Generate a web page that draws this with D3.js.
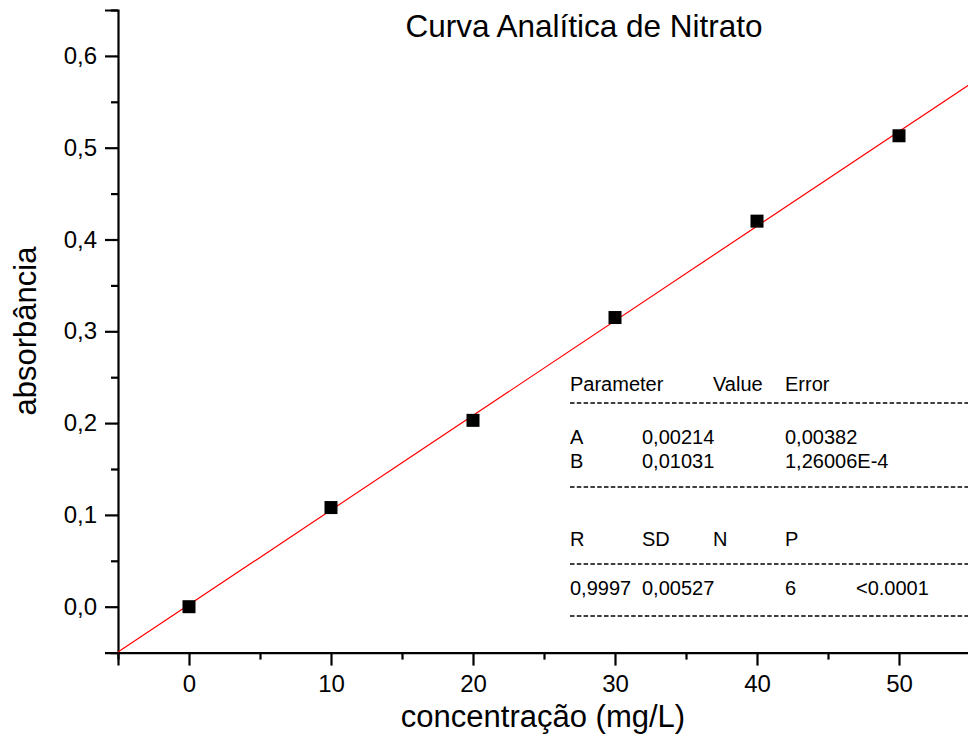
<!DOCTYPE html>
<html>
<head>
<meta charset="utf-8">
<script src="https://cdn.jsdelivr.net/npm/d3@7"></script>
<style>
  body { margin: 0; background: #fff; }
  text { font-family: "Liberation Sans", Arial, sans-serif; }
</style>
</head>
<body>
<div id="chart"></div>
<script>
// Data
const concentration = [0, 10, 20, 30, 40, 50];
const absorbance = [0.000, 0.108, 0.203, 0.315, 0.420, 0.513];

// Linear fit parameters (from the stats table)
const fitA = 0.00214;
const fitB = 0.01031;

// Stats table rows
const tableHeader = ["Parameter", "Value", "Error"];
const tableParams = [["A", "0,00214", "0,00382"], ["B", "0,01031", "1,26006E-4"]];
const tableStatsHeader = ["R", "SD", "N", "P"];
const tableStats = ["0,9997", "0,00527", "6", "<0.0001"];

const xMajor = [0, 10, 20, 30, 40, 50];
const xMinor = [-5, 5, 15, 25, 35, 45, 55];
const yMajor = [0, 0.1, 0.2, 0.3, 0.4, 0.5, 0.6];
const yMinor = [-0.05, 0.05, 0.15, 0.25, 0.35, 0.45, 0.55, 0.65];

const width = 968, height = 744;
const fontFamily = "'Liberation Sans', Arial, sans-serif";

const svg = d3.select("#chart")
    .append("svg")
    .attr("width", width)
    .attr("height", height);

// Scales
const xScale = d3.scaleLinear()
    .domain([-5, 55])
    .range([118, 970]);

const yScale = d3.scaleLinear()
    .domain([-0.05, 0.65])
    .range([652.6, 10]);

const fmtY = v => d3.format(".1f")(v).replace(".", ",");

// Y axis: major ticks with labels, then minor ticks
svg.append("g")
    .attr("transform", "translate(118,0)")
    .call(d3.axisLeft(yScale).tickValues(yMajor).tickFormat(fmtY).tickSize(13).tickPadding(8));
svg.append("g")
    .attr("transform", "translate(118,0)")
    .call(d3.axisLeft(yScale).tickValues(yMinor).tickFormat("").tickSize(7))
    .select(".domain").remove();

// X axis
svg.append("g")
    .attr("transform", "translate(0,652.6)")
    .call(d3.axisBottom(xScale).tickValues(xMajor).tickFormat(d3.format("d")).tickSize(13).tickPadding(9));
svg.append("g")
    .attr("transform", "translate(0,652.6)")
    .call(d3.axisBottom(xScale).tickValues(xMinor).tickFormat("").tickSize(7))
    .select(".domain").remove();

svg.selectAll("g").attr("font-family", fontFamily);
svg.selectAll(".domain").attr("stroke-width", 2.2);
svg.selectAll(".tick line").attr("stroke-width", 2.2);
svg.selectAll(".tick text")
    .attr("font-size", 24)
    .attr("fill", "#000");

// Axis labels
svg.append("text")
    .attr("x", 543)
    .attr("y", 727)
    .attr("text-anchor", "middle")
    .style("font-size", "31px")
    .text("concentração (mg/L)");

svg.append("text")
    .attr("transform", "translate(36,331) rotate(-90)")
    .attr("text-anchor", "middle")
    .style("font-size", "31px")
    .text("absorbância");

// Title
svg.append("text")
    .attr("x", 584)
    .attr("y", 37)
    .attr("text-anchor", "middle")
    .style("font-size", "31.5px")
    .text("Curva Analítica de Nitrato");

// Fitted line
const fitLine = d3.line()
    .x(d => xScale(d))
    .y(d => yScale(fitA + fitB * d));

svg.append("path")
    .datum([-5, 55])
    .attr("d", fitLine)
    .attr("fill", "none")
    .attr("stroke", "red")
    .attr("stroke-width", 1.2);

// Data points
const size = 13;
svg.selectAll("rect.pt")
    .data(concentration)
    .enter()
    .append("rect")
    .attr("class", "pt")
    .attr("x", d => xScale(d) - size / 2)
    .attr("y", (d, i) => yScale(absorbance[i]) - size / 2)
    .attr("width", size)
    .attr("height", size)
    .attr("fill", "black");

// Stats table
const table = svg.append("g").style("font-size", "20px");
const col = [570, 642, 713, 785, 856];

table.append("text").attr("x", col[0]).attr("y", 391).text(tableHeader[0]);
table.append("text").attr("x", col[2]).attr("y", 391).text(tableHeader[1]);
table.append("text").attr("x", col[3]).attr("y", 391).text(tableHeader[2]);

tableParams.forEach(function(row, i) {
    const y = 444 + i * 24;
    table.append("text").attr("x", col[0]).attr("y", y).text(row[0]);
    table.append("text").attr("x", col[1]).attr("y", y).text(row[1]);
    table.append("text").attr("x", col[3]).attr("y", y).text(row[2]);
});

[col[0], col[1], col[2], col[3]].forEach(function(x, i) {
    table.append("text").attr("x", x).attr("y", 546).text(tableStatsHeader[i]);
});
[col[0], col[1], col[3], col[4]].forEach(function(x, i) {
    table.append("text").attr("x", x).attr("y", 595).text(tableStats[i]);
});

// Dashed separators
[403, 487, 564, 616].forEach(function(y) {
    table.append("line")
        .attr("x1", col[0])
        .attr("x2", width)
        .attr("y1", y)
        .attr("y2", y)
        .attr("stroke", "black")
        .attr("stroke-width", 1.3)
        .attr("stroke-dasharray", "4.5,2.3");
});
</script>
</body>
</html>
